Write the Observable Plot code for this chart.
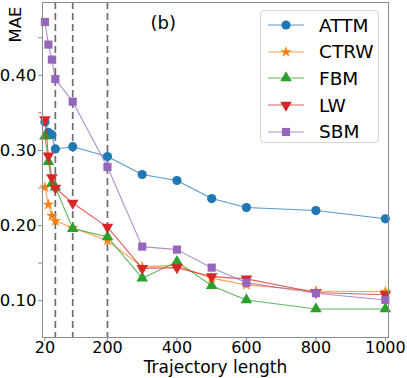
<!DOCTYPE html>
<html><head><meta charset="utf-8">
<script src="https://cdn.jsdelivr.net/npm/d3@7"></script>
<script src="https://cdn.jsdelivr.net/npm/@observablehq/plot@0.6"></script>
<style>
body{margin:0;background:#fff;font-family:"DejaVu Sans",sans-serif;}
#wrap{position:relative;width:407px;height:378px;}
#legend{position:absolute;left:260px;top:10px;width:119px;height:133px;border:1px solid #d6d6d6;border-radius:4px;background:rgba(255,255,255,0.85);box-sizing:border-box;}
.row{position:absolute;left:0;height:26px;display:flex;align-items:center;font-size:18.5px;color:#000;white-space:nowrap;}
.row svg{margin-left:6px;margin-right:14px;}
</style></head><body>
<div id="wrap"><div id="legend"></div></div>
<script>
const lengths = [20, 30, 40, 50, 100, 200, 300, 400, 500, 600, 800, 1000];
const seriesNames = ["ATTM", "CTRW", "FBM", "LW", "SBM"];
const attm = [0.338, 0.324, 0.321, 0.302, 0.305, 0.292, 0.268, 0.260, 0.236, 0.224, 0.220, 0.209];
const ctrw = [0.251, 0.228, 0.213, 0.206, 0.197, 0.180, 0.145, 0.147, 0.130, 0.121, 0.113, 0.112];
const fbm  = [0.319, 0.285, 0.256, 0.251, 0.196, 0.185, 0.130, 0.152, 0.120, 0.101, 0.089, 0.089];
const lw   = [0.341, 0.293, 0.264, 0.250, 0.230, 0.198, 0.143, 0.144, 0.132, 0.129, 0.111, 0.108];
const sbm  = [0.471, 0.441, 0.421, 0.395, 0.365, 0.278, 0.172, 0.168, 0.144, 0.124, 0.110, 0.101];
const dashedLengths = [50, 100, 200];
const xTicks = [20, 200, 400, 600, 800, 1000];
const yTicks = [0.10, 0.15, 0.20, 0.25, 0.30, 0.35, 0.40, 0.45];
const yLabelTicks = [0.10, 0.20, 0.30, 0.40];

const colors = ["#1f77b4", "#ff7f0e", "#2ca02c", "#d62728", "#9467bd"];
const symbols = ["circle", "star", "triangle", "triangle", "square"];
const rotates = [0, 0, 0, 180, 0];
const radii = [4.6, 3.6, 4.3, 4.3, 4.6];
const values = [attm, ctrw, fbm, lw, sbm];

const seriesMarks = [];
seriesNames.forEach((name, i) => {
  const rows = lengths.map((L, j) => ({L, v: values[i][j]}));
  seriesMarks.push(Plot.line(rows, {x: "L", y: "v", stroke: colors[i], strokeWidth: 1.1, strokeOpacity: 0.75}));
  seriesMarks.push(Plot.dot(rows, {x: "L", y: "v", symbol: symbols[i], r: radii[i], fill: colors[i], stroke: "none", rotate: rotates[i]}));
});

const chart = Plot.plot({
  width: 407, height: 378,
  marginLeft: 42, marginRight: 19, marginTop: 2, marginBottom: 41,
  style: {fontFamily: "DejaVu Sans, sans-serif", background: "transparent"},
  x: {domain: [13, 1009]},
  y: {domain: [0.051, 0.497]},
  marks: [
    Plot.ruleX(dashedLengths, {stroke: "#6e6e6e", strokeWidth: 1.7, strokeDasharray: "7,4"}),
    ...seriesMarks,
    Plot.frame({stroke: "#8c8c8c", strokeWidth: 1}),
    Plot.axisX({ticks: xTicks, tickSize: 4, tickPadding: 0, fontSize: 16, label: null, stroke: "#8c8c8c", fill: "#000", tickFormat: d => String(d)}),
    Plot.axisY({ticks: yTicks, tickSize: 4, tickPadding: 2, fontSize: 16.5, label: null, stroke: "#8c8c8c",
      tickFormat: d => yLabelTicks.some(t => Math.abs(t - d) < 1e-9) ? d.toFixed(2) : ""}),
    Plot.text(["Trajectory length"], {frameAnchor: "bottom", dy: 35, fontSize: 17, fill: "#000"}),
    Plot.text(["MAE"], {frameAnchor: "top-left", dx: -33, dy: 4, rotate: -90, textAnchor: "end", fontSize: 16.5, fill: "#000"}),
    Plot.text(["(b)"], {frameAnchor: "top-left", dx: 108, dy: 14, textAnchor: "start", fontSize: 18, fill: "#000"})
  ]
});
document.getElementById("wrap").prepend(chart);
chart.style.position = "absolute"; chart.style.left = "0"; chart.style.top = "0";

const legend = document.getElementById("legend");
legend.style.zIndex = 2;
seriesNames.forEach((name, i) => {
  const row = document.createElement("div");
  row.className = "row";
  row.style.top = (1 + i * 26.7) + "px";
  const sym = {circle: d3.symbolCircle, star: d3.symbolStar, triangle: d3.symbolTriangle, square: d3.symbolSquare}[symbols[i]];
  const path = d3.symbol(sym, Math.PI * radii[i] * radii[i])();
  row.innerHTML = `<svg width="38" height="20"><line x1="1" x2="37" y1="10" y2="10" stroke="${colors[i]}" stroke-width="1.1" stroke-opacity="0.75"/><path d="${path}" transform="translate(19,10) rotate(${rotates[i]})" fill="${colors[i]}"/></svg><span>${name}</span>`;
  legend.appendChild(row);
});
</script>
</body></html>
